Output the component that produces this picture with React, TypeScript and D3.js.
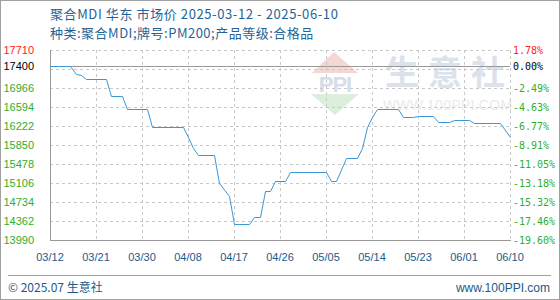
import React from "react";
import * as d3 from "d3";

// Price series (CNY/ton) — change points of the daily quote
const dates = [
  "2025-03-12", "2025-03-16", "2025-03-17", "2025-03-18", "2025-03-19", "2025-03-23",
  "2025-03-24", "2025-03-26", "2025-03-27", "2025-03-31", "2025-04-01", "2025-04-07",
  "2025-04-08", "2025-04-09", "2025-04-10", "2025-04-13", "2025-04-14", "2025-04-16",
  "2025-04-17", "2025-04-20", "2025-04-21", "2025-04-22", "2025-04-23", "2025-04-24",
  "2025-04-25", "2025-04-27", "2025-04-28", "2025-05-05", "2025-05-06", "2025-05-07",
  "2025-05-09", "2025-05-11", "2025-05-12", "2025-05-13", "2025-05-14", "2025-05-15",
  "2025-05-19", "2025-05-20", "2025-05-22", "2025-05-23", "2025-05-26", "2025-05-27",
  "2025-05-29", "2025-05-30", "2025-06-02", "2025-06-03", "2025-06-08", "2025-06-10",
];
const prices = [
  17400, 17400, 17240, 17230, 17150, 17150,
  16800, 16800, 16550, 16550, 16200, 16200,
  16000, 15800, 15650, 15650, 15100, 14850,
  14300, 14300, 14450, 14450, 14950, 14950,
  15150, 15150, 15320, 15320, 15150, 15150,
  15600, 15600, 15800, 16200, 16400, 16550,
  16550, 16400, 16400, 16420, 16420, 16300,
  16300, 16330, 16330, 16280, 16280, 16000,
];

const basePrice = 17400;
const yMin = 13990;
const yMax = 17710;
const yStep = 372;
const xTickLabels = ["03/12", "03/21", "03/30", "04/08", "04/17", "04/26", "05/05", "05/14", "05/23", "06/01", "06/10"];

const titleText = "聚合MDI 华东 市场价 2025-03-12 - 2025-06-10";
const subtitleText = "种类:聚合MDI;牌号:PM200;产品等级:合格品";

const W = 560;
const H = 300;
const M = { left: 50, right: 510, top: 50, bottom: 240 };

const parse = d3.timeParse("%Y-%m-%d");
const fmtTick = d3.timeFormat("%m/%d");

export default function App() {
  const start = parse("2025-03-12")!;
  const end = parse("2025-06-10")!;
  const x = d3.scaleTime().domain([start, end]).range([M.left, M.right]);
  const y = d3.scaleLinear().domain([yMin, yMax]).range([M.bottom, M.top]);

  const points = dates.map((d, i) => ({ date: parse(d)!, v: prices[i] }));
  const line = d3
    .line<{ date: Date; v: number }>()
    .x((d) => Math.round(x(d.date)) + 0.5)
    .y((d) => Math.round(y(d.v)) + 0.5);

  const gridVals = d3.range(0, 11).map((k) => yMin + k * yStep);
  // left labels: grid values except the one just under the base, plus the base
  const leftLabels = gridVals
    .filter((v) => v !== yMin + 9 * yStep)
    .concat([basePrice])
    .sort((a, b) => b - a);

  const xTicks = d3.range(0, 11).map((k) => d3.timeDay.offset(start, k * 9));

  const pct = (v: number) => ((v - basePrice) / basePrice) * 100;
  const labelColor = (v: number) => (v > basePrice ? "#ff2222" : v === basePrice ? "#000000" : "#2fae2f");

  const font = "'Liberation Sans', Arial, sans-serif";
  const cjk = "'Noto Sans CJK SC', 'Liberation Sans', sans-serif";

  return (
    <svg
      width={W}
      height={H}
      style={{ position: "absolute", left: 0, top: 0, background: "#fff" }}
      shapeRendering="crispEdges"
    >
      <rect x={0.5} y={0.5} width={W - 1} height={H - 1} fill="#fff" stroke="#a0a0a0" />

      {/* title */}
      <text x={50} y={19} fontFamily={cjk} fontSize={13} letterSpacing={0.6} fill="#1f6397">{titleText}</text>
      <text x={50} y={38} fontFamily={cjk} fontSize={13} letterSpacing={0.5} fill="#1f6397">{subtitleText}</text>

      {/* watermark */}
      <g shapeRendering="geometricPrecision">
        <polygon points="334,52 312,73 358,73" fill="#f6d6d3" />
        <text x={335} y={92} textAnchor="middle" fontFamily={font} fontWeight="bold" fontSize={22} fill="#d6dde9" letterSpacing={-1}>PPI</text>
        <polygon points="311,94 359,94 335,115" fill="#dcefdd" />
        <text x={385} y={85} fontFamily={cjk} fontSize={34} fontWeight="bold" fill="#dce2ec" letterSpacing={9}>生意社</text>
        <text x={383} y={110} fontFamily={font} fontSize={14} fill="#eaeaea" letterSpacing={0.3}>WWW.100PPI.COM</text>
      </g>

      {/* horizontal grid */}
      {gridVals.map((v) => (
        <line key={"h" + v} x1={M.left} x2={M.right} y1={Math.round(y(v)) + 0.5} y2={Math.round(y(v)) + 0.5}
          stroke="#c8c8c8" strokeDasharray="3,3" />
      ))}
      {/* vertical grid */}
      {xTicks.slice(1).map((t, i) => (
        <line key={"v" + i} x1={Math.round(x(t)) + 0.5} x2={Math.round(x(t)) + 0.5} y1={M.top} y2={M.bottom}
          stroke="#c8c8c8" strokeDasharray="3,3" />
      ))}

      {/* base line */}
      <line x1={M.left} x2={M.right} y1={Math.round(y(basePrice)) + 0.5} y2={Math.round(y(basePrice)) + 0.5} stroke="#999" />

      {/* axes */}
      <line x1={M.left + 0.5} x2={M.left + 0.5} y1={M.top} y2={M.bottom} stroke="#999" />
      <line x1={M.left} x2={M.right + 1} y1={M.bottom + 0.5} y2={M.bottom + 0.5} stroke="#999" />

      {/* price line */}
      <path d={line(points) ?? ""} fill="none" stroke="#3a98d8" strokeWidth={1} shapeRendering="auto" />

      {/* left labels */}
      {leftLabels.map((v) => (
        <text key={"l" + v} x={34} y={y(v) + 4} textAnchor="end" fontFamily={font} fontSize={11} fill={labelColor(v)}>
          {v}
        </text>
      ))}
      {/* right labels */}
      {leftLabels.map((v) => (
        <text key={"r" + v} x={513} y={y(v) + 4} fontFamily="'DejaVu Sans Mono', monospace" fontSize={10} fill={labelColor(v)}>
          {pct(v).toFixed(2) + "%"}
        </text>
      ))}

      {/* x labels */}
      {xTicks.map((t, i) => (
        <text key={"x" + i} x={x(t)} y={261} textAnchor="middle" fontFamily={font} fontSize={11} fill="#1a5a8a">
          {xTickLabels[i] ?? fmtTick(t)}
        </text>
      ))}

      {/* footer */}
      <line x1={8} x2={551} y1={275.5} y2={275.5} stroke="#a0a0a0" />
      <text x={8} y={292} fontFamily={cjk} fontSize={12} fill="#1a5a8a">© 2025.07 生意社</text>
      <text x={550} y={292} textAnchor="end" fontFamily={font} fontSize={12} fill="#1a5a8a">www.100PPI.com</text>
    </svg>
  );
}
